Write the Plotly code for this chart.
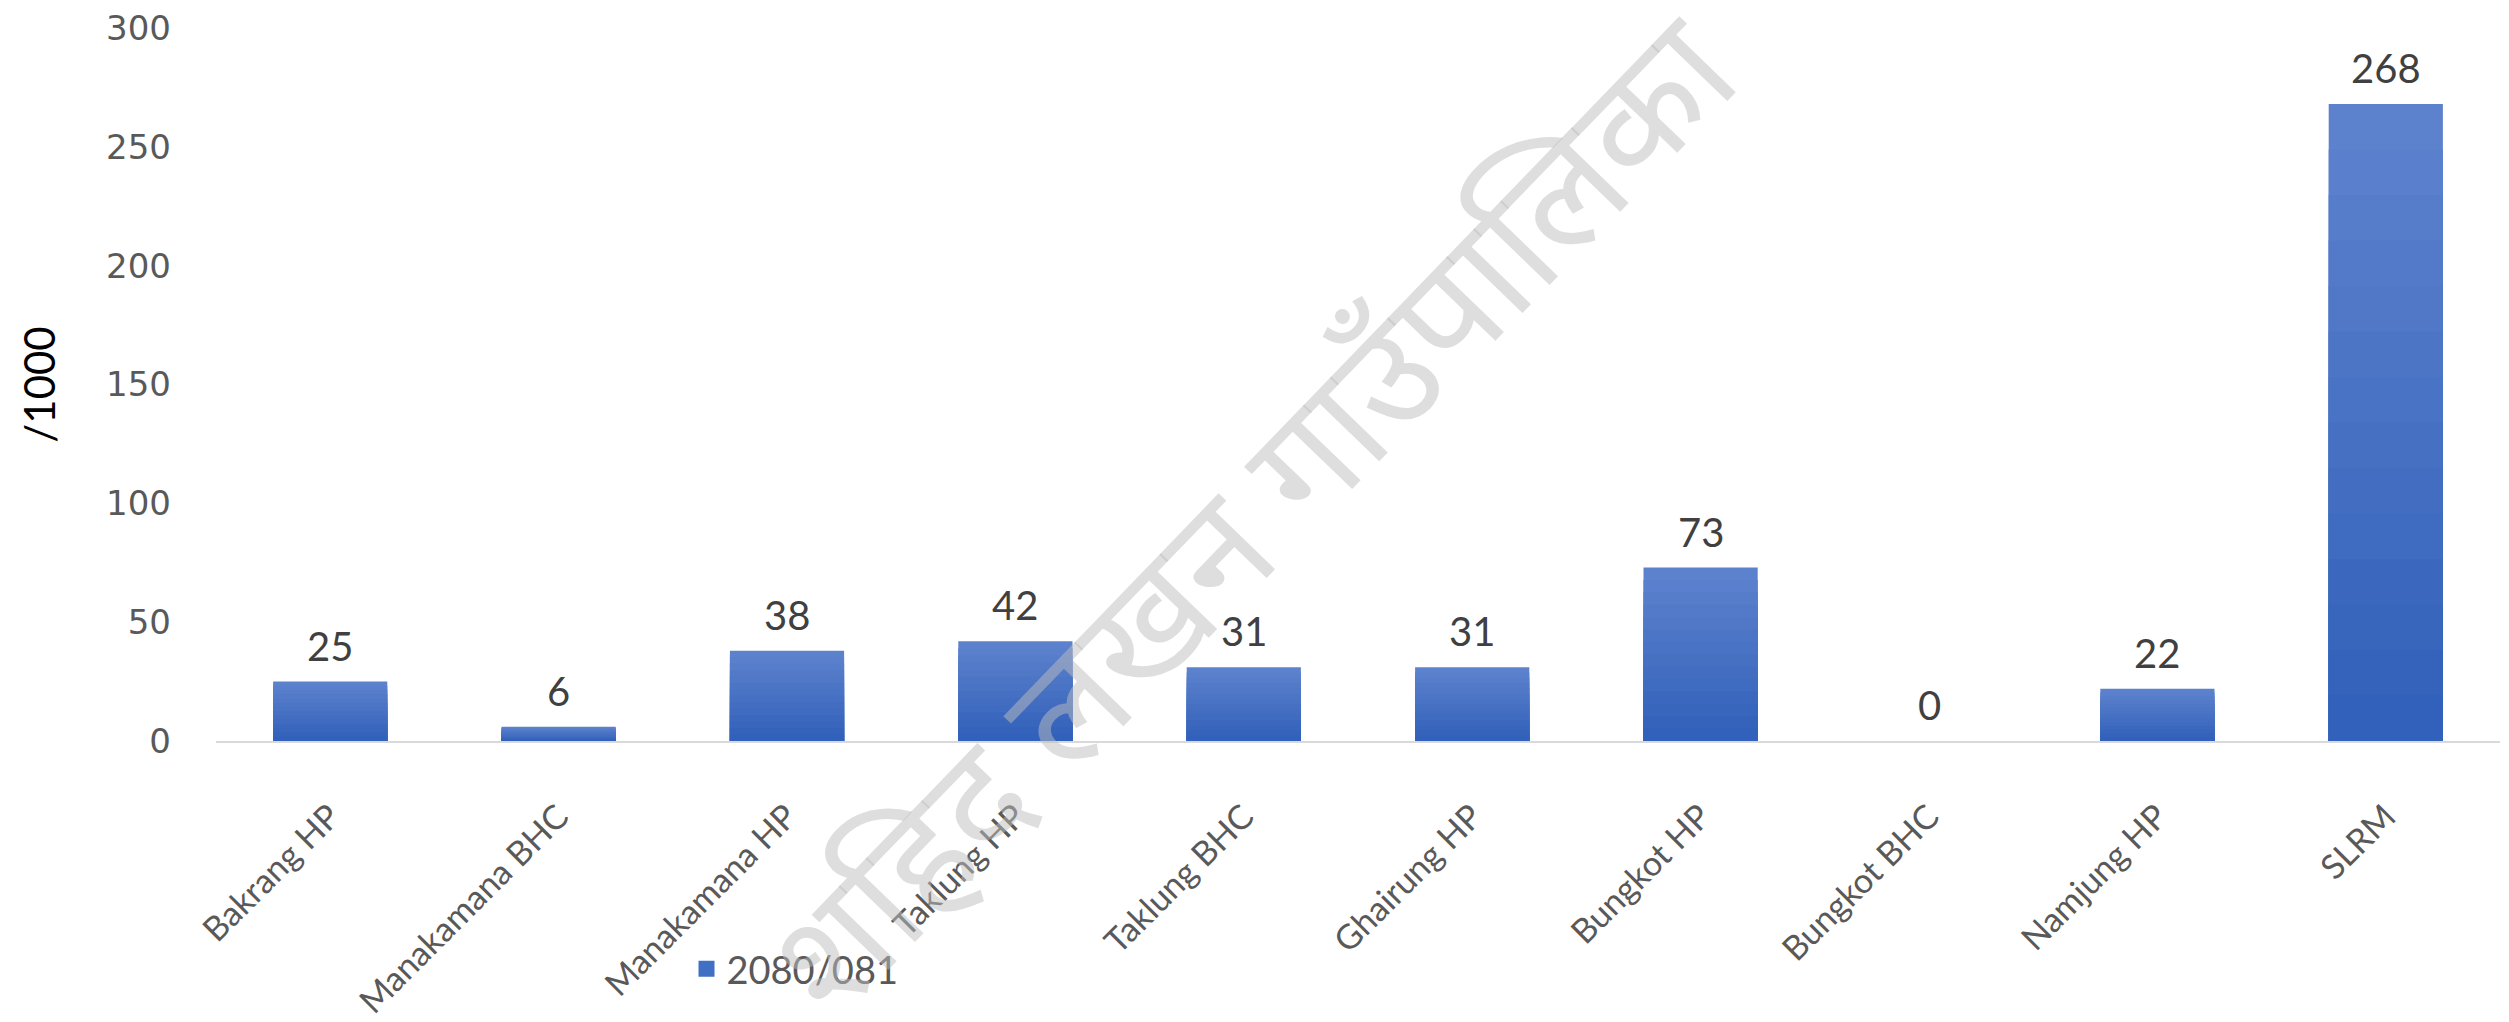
import plotly.graph_objects as go

# health facilities, fiscal year 2080/081 (per 1000)
facilities = ["Bakrang HP", "Manakamana BHC", "Manakamana HP", "Taklung HP", "Taklung BHC",
              "Ghairung HP", "Bungkot HP", "Bungkot BHC", "Namjung HP", "SLRM"]
values = [25, 6, 38, 42, 31, 31, 73, 0, 22, 268]
series_name = "2080/081"
y_ticks = [0, 50, 100, 150, 200, 250, 300]
watermark = "शहिद लखन गाउँपालिका"

# gradient look: stack of overlaid bars, lighter on top, darker to the bottom
top_rgb = (93, 130, 205)
bottom_rgb = (46, 94, 184)
steps = 14

fig = go.Figure()
for i in range(steps):
    f = i / steps
    col = tuple(round(top_rgb[k] + (bottom_rgb[k] - top_rgb[k]) * f) for k in range(3))
    frac = 1 - f
    fig.add_trace(go.Bar(
        x=facilities,
        y=[v * frac for v in values],
        marker=dict(color="rgb(%d,%d,%d)" % col, line=dict(width=0)),
        name=series_name,
        showlegend=False,
        hoverinfo="skip" if i else None,
    ))

# legend entry only (bigger square swatch than the bar legend gives)
fig.add_trace(go.Scatter(x=[None], y=[None], mode="markers", name=series_name,
                         marker=dict(symbol="square", size=24, color="#4070C4")))

# data labels above the bars
for fac, val in zip(facilities, values):
    fig.add_annotation(x=fac, y=val, text=str(val), showarrow=False,
                       yanchor="middle", yshift=36,
                       font=dict(family="Lato, sans-serif", size=40, color="#404040"))

fig.add_annotation(
    text=watermark, xref="paper", yref="paper", x=0.459, y=0.30,
    xanchor="center", yanchor="middle",
    showarrow=False, textangle=-46,
    font=dict(family="Noto Sans Devanagari, Noto Sans, DejaVu Sans", size=150, color="rgba(190,190,190,0.5)"),
)

# page body adds 8px, so the figure is 8px smaller than the window
fig.update_layout(
    width=2501, height=1014,
    barmode="overlay", bargap=0.5,
    plot_bgcolor="white", paper_bgcolor="white",
    margin=dict(l=208, r=9, t=20, b=281),
    legend=dict(orientation="h", x=0.206, y=-0.32, xanchor="left", yanchor="middle",
                itemsizing="trace",
                font=dict(family="Lato, sans-serif", size=38, color="#595959")),
)
fig.update_xaxes(
    showline=True, linecolor="#D9D9D9", linewidth=2, showgrid=False, automargin=False,
    tickangle=-45, ticklabelstandoff=40,
    tickfont=dict(family="Lato, sans-serif", size=34, color="#595959"),
)
fig.update_yaxes(
    range=[0, 300], tickvals=y_ticks, showgrid=False, zeroline=False, showline=False,
    automargin=False, ticklabelstandoff=44, ticklabeloverflow="allow",
    tickfont=dict(family="DejaVu Sans", size=34, color="#595959"),
    title=dict(text="/1000", standoff=37,
               font=dict(family="Lato, sans-serif", size=42, color="black")),
)

fig.write_html("out.html")
